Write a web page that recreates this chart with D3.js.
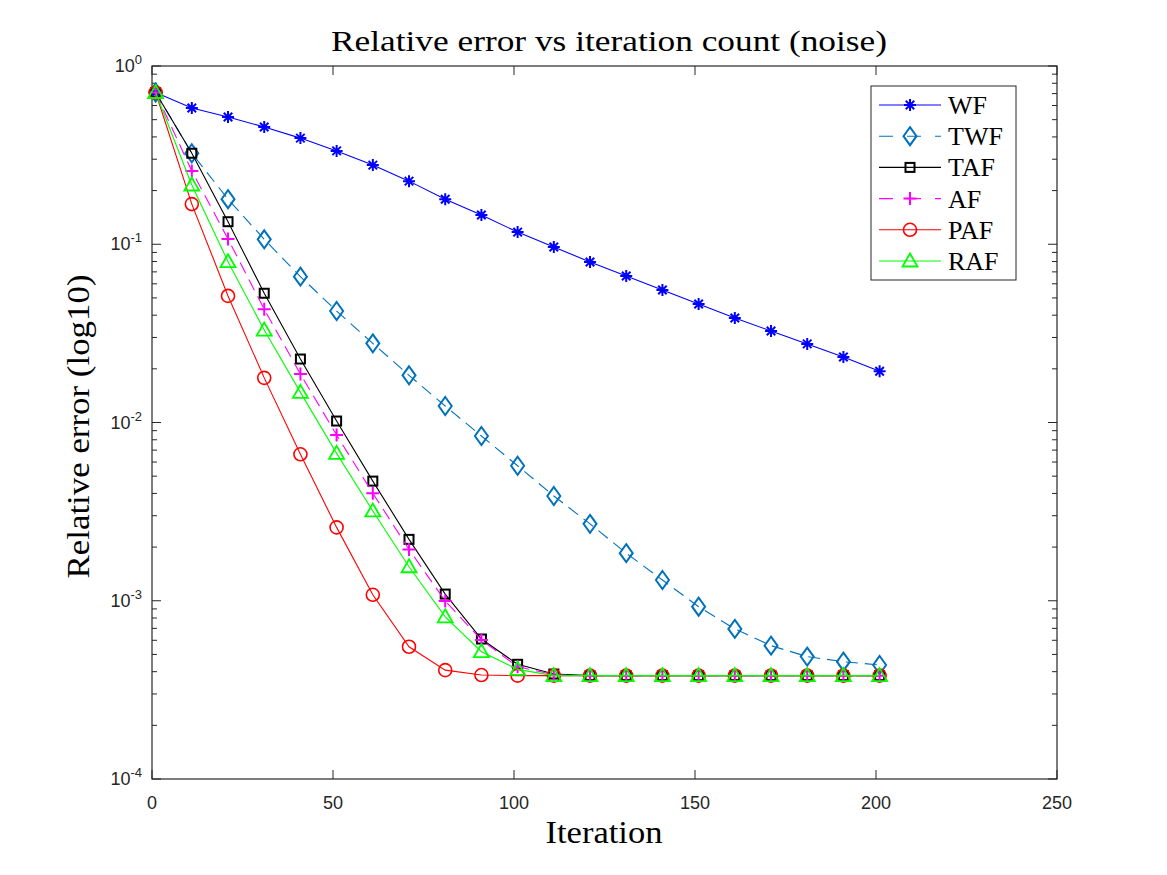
<!DOCTYPE html>
<html>
<head>
<meta charset="utf-8">
<script src="https://cdn.jsdelivr.net/npm/d3@7"></script>
<style>
  body { margin: 0; background: #fff; }
  svg { display: block; }
</style>
</head>
<body>
<div id="chart"></div>
<script>
// iterations where markers are drawn
const iters = [1, 11, 21, 31, 41, 51, 61, 71, 81, 91, 101, 111, 121, 131, 141, 151, 161, 171, 181, 191, 201];

const wf  = [0.71, 0.581, 0.517, 0.455, 0.394, 0.334, 0.278, 0.226, 0.179, 0.146, 0.117, 0.0966, 0.0795, 0.0664, 0.0554, 0.0462, 0.0386, 0.0326, 0.0276, 0.0233, 0.0194];
const twf = [0.71, 0.324, 0.179, 0.1066, 0.0658, 0.0422, 0.0278, 0.0184, 0.01238, 0.0084, 0.00572, 0.00387, 0.0027, 0.00185, 0.001307, 0.000926, 0.000695, 0.00056, 0.000486, 0.000455, 0.000436];
const taf = [0.71, 0.324, 0.1338, 0.0531, 0.0227, 0.01019, 0.00469, 0.00221, 0.00109, 0.00061, 0.00044, 0.000388, 0.00038, 0.00038, 0.00038, 0.00038, 0.00038, 0.00038, 0.00038, 0.00038, 0.00038];
const af  = [0.71, 0.2575, 0.107, 0.0432, 0.0187, 0.00851, 0.00401, 0.00194, 0.000997, 0.000603, 0.000426, 0.000385, 0.00038, 0.00038, 0.00038, 0.00038, 0.00038, 0.00038, 0.00038, 0.00038, 0.00038];
const paf = [0.71, 0.168, 0.0513, 0.0178, 0.00663, 0.00258, 0.00108, 0.000552, 0.000408, 0.000383, 0.00038, 0.00038, 0.00038, 0.00038, 0.00038, 0.00038, 0.00038, 0.00038, 0.00038, 0.00038, 0.00038];
const raf = [0.71, 0.215, 0.0798, 0.033, 0.01476, 0.00671, 0.00319, 0.001551, 0.000813, 0.000518, 0.000412, 0.00038, 0.00038, 0.00038, 0.00038, 0.00038, 0.00038, 0.00038, 0.00038, 0.00038, 0.00038];

const xTicks = [0, 50, 100, 150, 200, 250];
const yTicks = [1e-4, 1e-3, 1e-2, 1e-1, 1];
const yTickExp = ['-4', '-3', '-2', '-1', '0'];

const series = [
  { name: 'WF',  values: wf,  color: '#0000ff', dash: null,    marker: 'star' },
  { name: 'TWF', values: twf, color: '#0072bd', dash: '12,7',  marker: 'diamond' },
  { name: 'TAF', values: taf, color: '#000000', dash: null,    marker: 'square' },
  { name: 'AF',  values: af,  color: '#ff00ff', dash: '12,7',  marker: 'plus' },
  { name: 'PAF', values: paf, color: '#ff0000', dash: null,    marker: 'circle' },
  { name: 'RAF', values: raf, color: '#00ff00', dash: null,    marker: 'triangle' },
];

const W = 1167, H = 875;
const margin = { left: 152, right: 110, top: 66, bottom: 96 };
const innerW = W - margin.left - margin.right;
const innerH = H - margin.top - margin.bottom;

const svg = d3.select('#chart').append('svg')
  .attr('width', W)
  .attr('height', H);

const g = svg.append('g')
  .attr('transform', `translate(${margin.left}, ${margin.top})`);

const x = d3.scaleLinear().domain([0, 250]).range([0, innerW]);
const y = d3.scaleLog().domain([1e-4, 1]).range([innerH, 0]);

const axisColor = '#262626';
const tickFont = '"Liberation Sans Narrow", "Liberation Sans", Arial, sans-serif';
const serif = '"Liberation Serif", "DejaVu Serif", serif';

// ---------- frame + ticks ----------
const minor = [];
for (let e = -4; e < 0; e++) {
  for (let k = 2; k <= 9; k++) minor.push(k * Math.pow(10, e));
}

const tickG = g.append('g').attr('stroke', axisColor).attr('stroke-width', 1);

xTicks.forEach((t) => {
  tickG.append('line').attr('x1', x(t)).attr('x2', x(t)).attr('y1', innerH).attr('y2', innerH - 9);
  tickG.append('line').attr('x1', x(t)).attr('x2', x(t)).attr('y1', 0).attr('y2', 9);
});
yTicks.forEach((t) => {
  tickG.append('line').attr('x1', 0).attr('x2', 9).attr('y1', y(t)).attr('y2', y(t));
  tickG.append('line').attr('x1', innerW).attr('x2', innerW - 9).attr('y1', y(t)).attr('y2', y(t));
});
minor.forEach((t) => {
  tickG.append('line').attr('x1', 0).attr('x2', 5).attr('y1', y(t)).attr('y2', y(t));
  tickG.append('line').attr('x1', innerW).attr('x2', innerW - 5).attr('y1', y(t)).attr('y2', y(t));
});

g.append('rect')
  .attr('width', innerW)
  .attr('height', innerH)
  .attr('fill', 'none')
  .attr('stroke', axisColor)
  .attr('stroke-width', 1.2);

// tick labels
g.append('g').selectAll('text')
  .data(xTicks)
  .enter()
  .append('text')
  .attr('x', (d) => x(d))
  .attr('y', innerH + 30)
  .attr('text-anchor', 'middle')
  .style('font-family', tickFont)
  .style('font-size', '18px')
  .attr('fill', axisColor)
  .text((d) => d);

const yl = g.append('g').selectAll('text')
  .data(yTicks)
  .enter()
  .append('text')
  .attr('x', -10)
  .attr('y', (d) => y(d) + 6)
  .attr('text-anchor', 'end')
  .style('font-family', tickFont)
  .style('font-size', '18px')
  .attr('fill', axisColor);
yl.append('tspan').text('10');
yl.append('tspan')
  .attr('dy', -8)
  .style('font-size', '13px')
  .text((d, i) => yTickExp[i]);

// ---------- titles ----------
svg.append('text')
  .attr('x', 609)
  .attr('y', 51)
  .attr('text-anchor', 'middle')
  .style('font-family', serif)
  .style('font-size', '29px')
  .attr('textLength', 556)
  .attr('lengthAdjust', 'spacingAndGlyphs')
  .attr('fill', '#000')
  .text('Relative error vs iteration count (noise)');

svg.append('text')
  .attr('x', 604)
  .attr('y', 843)
  .attr('text-anchor', 'middle')
  .style('font-family', serif)
  .style('font-size', '31px')
  .attr('textLength', 117)
  .attr('lengthAdjust', 'spacingAndGlyphs')
  .attr('fill', '#000')
  .text('Iteration');

svg.append('text')
  .attr('transform', `translate(89, ${margin.top + innerH / 2 + 4}) rotate(-90)`)
  .attr('text-anchor', 'middle')
  .style('font-family', serif)
  .style('font-size', '31px')
  .attr('textLength', 304)
  .attr('lengthAdjust', 'spacingAndGlyphs')
  .attr('fill', '#000')
  .text('Relative error (log10)');

// ---------- markers ----------
function drawMarker(sel, type, color) {
  if (type === 'star') {
    const r = 6;
    const p = [];
    for (let a = 0; a < 4; a++) {
      const ang = (a * Math.PI) / 4;
      const dx = r * Math.sin(ang), dy = r * Math.cos(ang);
      p.push(`M${-dx},${-dy}L${dx},${dy}`);
    }
    sel.append('path').attr('d', p.join('')).attr('stroke', color).attr('stroke-width', 2).attr('fill', 'none');
  } else if (type === 'diamond') {
    sel.append('path').attr('d', 'M0,-9L6.5,0L0,9L-6.5,0Z').attr('stroke', color).attr('stroke-width', 2).attr('fill', 'none');
  } else if (type === 'square') {
    sel.append('rect').attr('x', -4.5).attr('y', -4.5).attr('width', 9).attr('height', 9).attr('stroke', color).attr('stroke-width', 2).attr('fill', 'none');
  } else if (type === 'plus') {
    sel.append('path').attr('d', 'M-6.5,0L6.5,0M0,-6.5L0,6.5').attr('stroke', color).attr('stroke-width', 2).attr('fill', 'none');
  } else if (type === 'circle') {
    sel.append('circle').attr('r', 6.5).attr('stroke', color).attr('stroke-width', 1.6).attr('fill', 'none');
  } else if (type === 'triangle') {
    sel.append('path').attr('d', 'M0,-7.5L7.5,5.5L-7.5,5.5Z').attr('stroke', color).attr('stroke-width', 1.8).attr('fill', 'none');
  }
}

const line = d3.line()
  .x((d) => x(d.it))
  .y((d) => y(d.v));

series.forEach((s) => {
  const pts = iters.map((it, i) => ({ it: it, v: s.values[i] }));
  const sg = g.append('g').attr('class', 'series-' + s.name);
  sg.append('path')
    .attr('d', line(pts))
    .attr('fill', 'none')
    .attr('stroke', s.color)
    .attr('stroke-width', 1.1)
    .attr('stroke-dasharray', s.dash);
  sg.selectAll('.m')
    .data(pts)
    .enter()
    .append('g')
    .attr('transform', (d) => `translate(${x(d.it)}, ${y(d.v)})`)
    .each(function () {
      drawMarker(d3.select(this), s.marker, s.color);
    });
});

// ---------- legend ----------
const leg = svg.append('g').attr('transform', 'translate(871, 86)');
leg.append('rect')
  .attr('width', 145)
  .attr('height', 194)
  .attr('fill', '#fff')
  .attr('stroke', axisColor)
  .attr('stroke-width', 1);

series.forEach((s, i) => {
  const ly = 19 + i * 31.2;
  const row = leg.append('g').attr('transform', `translate(0, ${ly})`);
  row.append('line')
    .attr('x1', 8)
    .attr('x2', 70)
    .attr('stroke', s.color)
    .attr('stroke-width', 1.1)
    .attr('stroke-dasharray', s.dash ? '14,14' : null);
  const mk = row.append('g').attr('transform', 'translate(39, 0)');
  drawMarker(mk, s.marker, s.color);
  row.append('text')
    .attr('x', 77)
    .attr('y', 9)
    .style('font-family', serif)
    .style('font-size', '26px')
    .attr('fill', '#000')
    .text(s.name);
});
</script>
</body>
</html>
